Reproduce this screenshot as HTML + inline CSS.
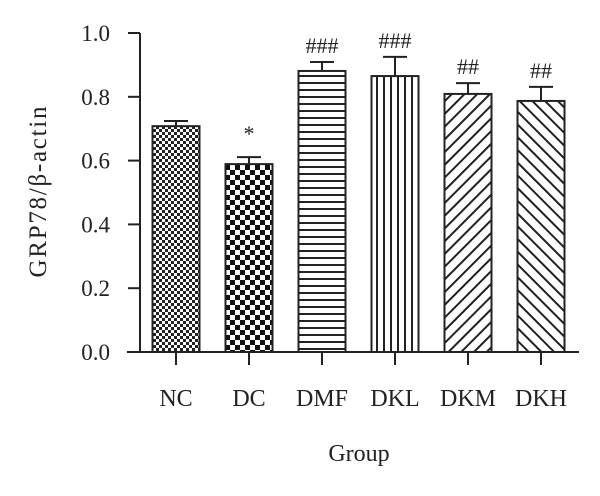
<!DOCTYPE html>
<html><head><meta charset="utf-8"><style>
body{margin:0;background:#fff}
svg text{font-family:"Liberation Serif",serif;fill:#222}
</style></head><body>
<svg width="600" height="491" viewBox="0 0 600 491">
<defs>
<pattern id="pNC" width="6" height="6" patternUnits="userSpaceOnUse"><rect width="6" height="6" fill="#fff"/><rect width="3" height="3" fill="#222"/><rect x="3" y="3" width="3" height="3" fill="#222"/></pattern>
<pattern id="pDC" width="10" height="10" patternUnits="userSpaceOnUse"><rect width="10" height="10" fill="#fff"/><rect width="5" height="5" fill="#111"/><rect x="5" y="5" width="5" height="5" fill="#111"/></pattern>
<pattern id="pDMF" width="8" height="7" patternUnits="userSpaceOnUse"><rect width="8" height="7" fill="#fff"/><rect y="5" width="8" height="2" fill="#222"/></pattern>
<pattern id="pDKL" width="7" height="8" patternUnits="userSpaceOnUse"><rect width="7" height="8" fill="#fff"/><rect x="5" width="2" height="8" fill="#222"/></pattern>
<pattern id="pDKM" width="9" height="9" patternUnits="userSpaceOnUse" patternTransform="rotate(45)"><rect width="9" height="9" fill="#fff"/><rect x="7" width="2" height="9" fill="#222"/></pattern>
<pattern id="pDKH" width="9" height="9" patternUnits="userSpaceOnUse" patternTransform="rotate(-45)"><rect width="9" height="9" fill="#fff"/><rect x="7" width="2" height="9" fill="#222"/></pattern>
</defs>
<g id="plot"></g>
<text x="46" y="192" font-size="25" text-anchor="middle" textLength="171" transform="rotate(-90 46 192)">GRP78/β-actin</text>
<text x="359" y="461" font-size="24" text-anchor="middle">Group</text>
</svg>
<script>
const categories=["NC","DC","DMF","DKL","DKM","DKH"];
const values=[0.708,0.589,0.881,0.865,0.809,0.787];
const errors=[0.016,0.022,0.028,0.060,0.034,0.044];
const marks=["","*","###","###","##","##"];
const yTicks=[0,0.2,0.4,0.6,0.8,1.0];
const tickLabels=["0.0","0.2","0.4","0.6","0.8","1.0"];
const patterns=["pNC","pDC","pDMF","pDKL","pDKM","pDKH"];
const NS="http://www.w3.org/2000/svg";
const g=document.getElementById("plot");
const y0=352,pxPerUnit=319,axX=140,barW=47;
const yS=v=>y0-v*pxPerUnit;
const xS=i=>176+i*73;
function mk(t,a){const e=document.createElementNS(NS,t);for(const k in a)e.setAttribute(k,a[k]);g.appendChild(e);return e;}
let e;
e=mk("line",{x1:axX,y1:yS(1),x2:axX,y2:y0,stroke:"#222","stroke-width":2});


e=mk("line",{x1:127,y1:y0,x2:579,y2:y0,stroke:"#222","stroke-width":2});


yTicks.forEach((v,i)=>{
 e=mk("line",{x1:axX-12,y1:yS(v),x2:axX,y2:yS(v),stroke:"#222","stroke-width":2});
 
 
 e=mk("text",{x:110,y:yS(v)+8,"font-size":23,"text-anchor":"end"});
 e.textContent=tickLabels[i];
 
 
});
categories.forEach((c,i)=>{
 const cx=xS(i),top=yS(values[i]),et=yS(values[i]+errors[i]);
 e=mk("line",{x1:cx,y1:et,x2:cx,y2:top,stroke:"#222","stroke-width":2});
 
 
 e=mk("line",{x1:cx-12,y1:et,x2:cx+12,y2:et,stroke:"#222","stroke-width":2});
 
 
 e=mk("rect",{x:cx-barW/2,y:top,width:barW,height:y0-top,fill:"url(#"+patterns[i]+")",stroke:"#222","stroke-width":2});
 
 
 e=mk("line",{x1:cx,y1:y0,x2:cx,y2:y0+13,stroke:"#222","stroke-width":2});
 
 
 e=mk("text",{x:cx,y:406,"font-size":24,"text-anchor":"middle"});
 e.textContent=c;
 
 
 if(marks[i]){
  e=mk("text",{x:cx,y:et-(marks[i]=="*"?16:9),"font-size":marks[i]=="*"?22:22,"text-anchor":"middle"});
  e.textContent=marks[i];
  
  
 }
});
</script>
</body></html>
